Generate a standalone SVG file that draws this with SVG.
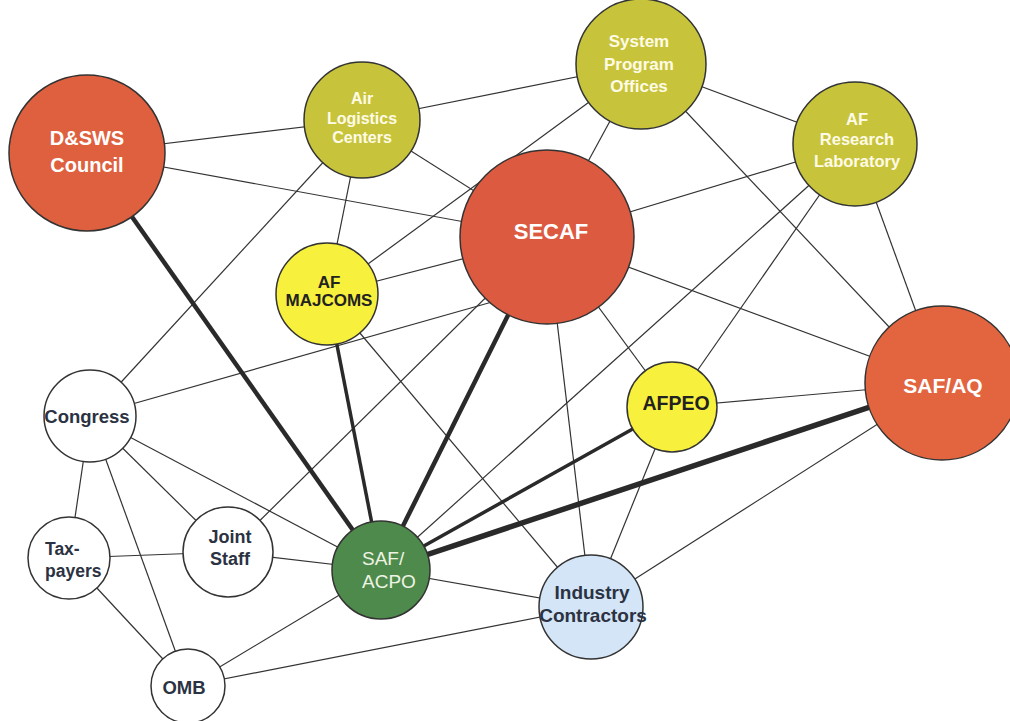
<svg xmlns="http://www.w3.org/2000/svg" width="1010" height="721" viewBox="0 0 1010 721">
<style>
.e{stroke:#333;stroke-width:1.2;fill:none}
.t1{stroke:#2a2a2a;stroke-width:3.5}
.t2{stroke:#2a2a2a;stroke-width:4.5}
.t3{stroke:#2a2a2a;stroke-width:5.5}
.n{stroke:#333;stroke-width:1.5}
.red{fill:#df603e}
.olive{fill:#c7c43b}
.yel{fill:#f7f03c}
.wh{fill:#fff}
.grn{fill:#4e8a4b}
.blu{fill:#d3e5f6}
text{font-family:"Liberation Sans",Arial,sans-serif;font-weight:bold;text-anchor:middle}
.lt{fill:#fff}
.ly{fill:#fffbe6}
.dk{fill:#222}
.nv{fill:#2b3242}
</style>
<rect width="1010" height="721" fill="#fff"/>
<g id="connectors">
<line class="e" x1="87" y1="153" x2="362" y2="120"/>
<line class="e" x1="87" y1="153" x2="547" y2="237"/>
<line class="e" x1="362" y1="120" x2="641" y2="64"/>
<line class="e" x1="362" y1="120" x2="547" y2="237"/>
<line class="e" x1="362" y1="120" x2="327" y2="294"/>
<line class="e" x1="362" y1="120" x2="90" y2="416"/>
<line class="e" x1="641" y1="64" x2="327" y2="294"/>
<line class="e" x1="641" y1="64" x2="855" y2="144"/>
<line class="e" x1="641" y1="64" x2="547" y2="237"/>
<line class="e" x1="641" y1="64" x2="942" y2="383"/>
<line class="e" x1="855" y1="144" x2="547" y2="237"/>
<line class="e" x1="855" y1="144" x2="672" y2="407"/>
<line class="e" x1="855" y1="144" x2="381" y2="570"/>
<line class="e" x1="855" y1="144" x2="942" y2="383"/>
<line class="e" x1="547" y1="237" x2="327" y2="294"/>
<line class="e" x1="90" y1="416" x2="492" y2="302"/>
<line class="e" x1="547" y1="237" x2="228" y2="552"/>
<line class="e" x1="547" y1="237" x2="591" y2="607"/>
<line class="e" x1="547" y1="237" x2="672" y2="407"/>
<line class="e" x1="547" y1="237" x2="942" y2="383"/>
<line class="e" x1="327" y1="294" x2="591" y2="607"/>
<line class="e" x1="942" y1="383" x2="672" y2="407"/>
<line class="e" x1="942" y1="383" x2="591" y2="607"/>
<line class="e" x1="672" y1="407" x2="591" y2="607"/>
<line class="e" x1="90" y1="416" x2="381" y2="570"/>
<line class="e" x1="90" y1="416" x2="228" y2="552"/>
<line class="e" x1="90" y1="416" x2="188" y2="686"/>
<line class="e" x1="90" y1="416" x2="69" y2="558"/>
<line class="e" x1="69" y1="558" x2="228" y2="552"/>
<line class="e" x1="69" y1="558" x2="188" y2="686"/>
<line class="e" x1="228" y1="552" x2="381" y2="570"/>
<line class="e" x1="381" y1="570" x2="188" y2="686"/>
<line class="e" x1="381" y1="570" x2="591" y2="607"/>
<line class="e" x1="591" y1="607" x2="188" y2="686"/>
<line class="e t2" x1="87" y1="153" x2="381" y2="570"/>
<line class="e t1" x1="327" y1="294" x2="381" y2="570"/>
<line class="e t2" x1="547" y1="237" x2="381" y2="570"/>
<line class="e t1" x1="672" y1="407" x2="381" y2="570"/>
<line class="e t3" x1="942" y1="383" x2="381" y2="570"/>
</g>
<g id="dsws"><circle class="n red" cx="87" cy="153" r="78"/><text class="lt" font-size="20" x="87" y="145">D&amp;SWS</text><text class="lt" font-size="20" x="87" y="172">Council</text></g>
<g id="alc"><circle class="n olive" cx="362" cy="120" r="58"/><text class="ly" font-size="16" x="362" y="104">Air</text><text class="ly" font-size="16" x="362" y="124">Logistics</text><text class="ly" font-size="16" x="362" y="143">Centers</text></g>
<g id="spo"><circle class="n olive" cx="641" cy="64" r="65"/><text class="ly" font-size="17" x="639" y="47">System</text><text class="ly" font-size="17" x="639" y="70">Program</text><text class="ly" font-size="17" x="639" y="92">Offices</text></g>
<g id="afrl"><circle class="n olive" cx="855" cy="144" r="62"/><text class="ly" font-size="16.5" x="857" y="125">AF</text><text class="ly" font-size="16.5" x="857" y="145">Research</text><text class="ly" font-size="16.5" x="857" y="167">Laboratory</text></g>
<g id="secaf"><circle class="n red" cx="547" cy="237" r="87" style="fill:#dc5a40"/><text class="lt" font-size="22" x="551" y="239">SECAF</text></g>
<g id="majcoms"><circle class="n yel" cx="327" cy="294" r="51"/><text class="dk" font-size="17" x="329" y="288">AF</text><text class="dk" font-size="17" x="329" y="306">MAJCOMS</text></g>
<g id="safaq"><circle class="n red" cx="942" cy="383" r="77" style="fill:#e2653f"/><text class="lt" font-size="21" x="943" y="393">SAF/AQ</text></g>
<g id="afpeo"><circle class="n yel" cx="672" cy="407" r="45"/><text class="dk" font-size="19.5" x="676" y="410">AFPEO</text></g>
<g id="congress"><circle class="n wh" cx="90" cy="416" r="46"/><text class="nv" font-size="18.5" x="87" y="423">Congress</text></g>
<g id="taxpayers"><circle class="n wh" cx="69" cy="558" r="41"/><text class="nv" font-size="17.5" x="45" y="555" style="text-anchor:start">Tax-</text><text class="nv" font-size="17.5" x="45" y="577" style="text-anchor:start">payers</text></g>
<g id="jointstaff"><circle class="n wh" cx="228" cy="552" r="45"/><text class="nv" font-size="18" x="230" y="543">Joint</text><text class="nv" font-size="18" x="230" y="565">Staff</text></g>
<g id="safacpo"><circle class="n grn" cx="381" cy="570" r="49"/><text font-size="19" x="362" y="565" style="text-anchor:start;font-weight:normal;fill:#eef4e4">SAF/</text><text font-size="19" x="362" y="588" style="text-anchor:start;font-weight:normal;fill:#eef4e4">ACPO</text></g>
<g id="industry"><circle class="n blu" cx="591" cy="607" r="52"/><text class="nv" font-size="19" x="592" y="599">Industry</text><text class="nv" font-size="19" x="593" y="622">Contractors</text></g>
<g id="omb"><circle class="n wh" cx="188" cy="686" r="37"/><text class="nv" font-size="18.5" x="184" y="694">OMB</text></g>
</svg>
